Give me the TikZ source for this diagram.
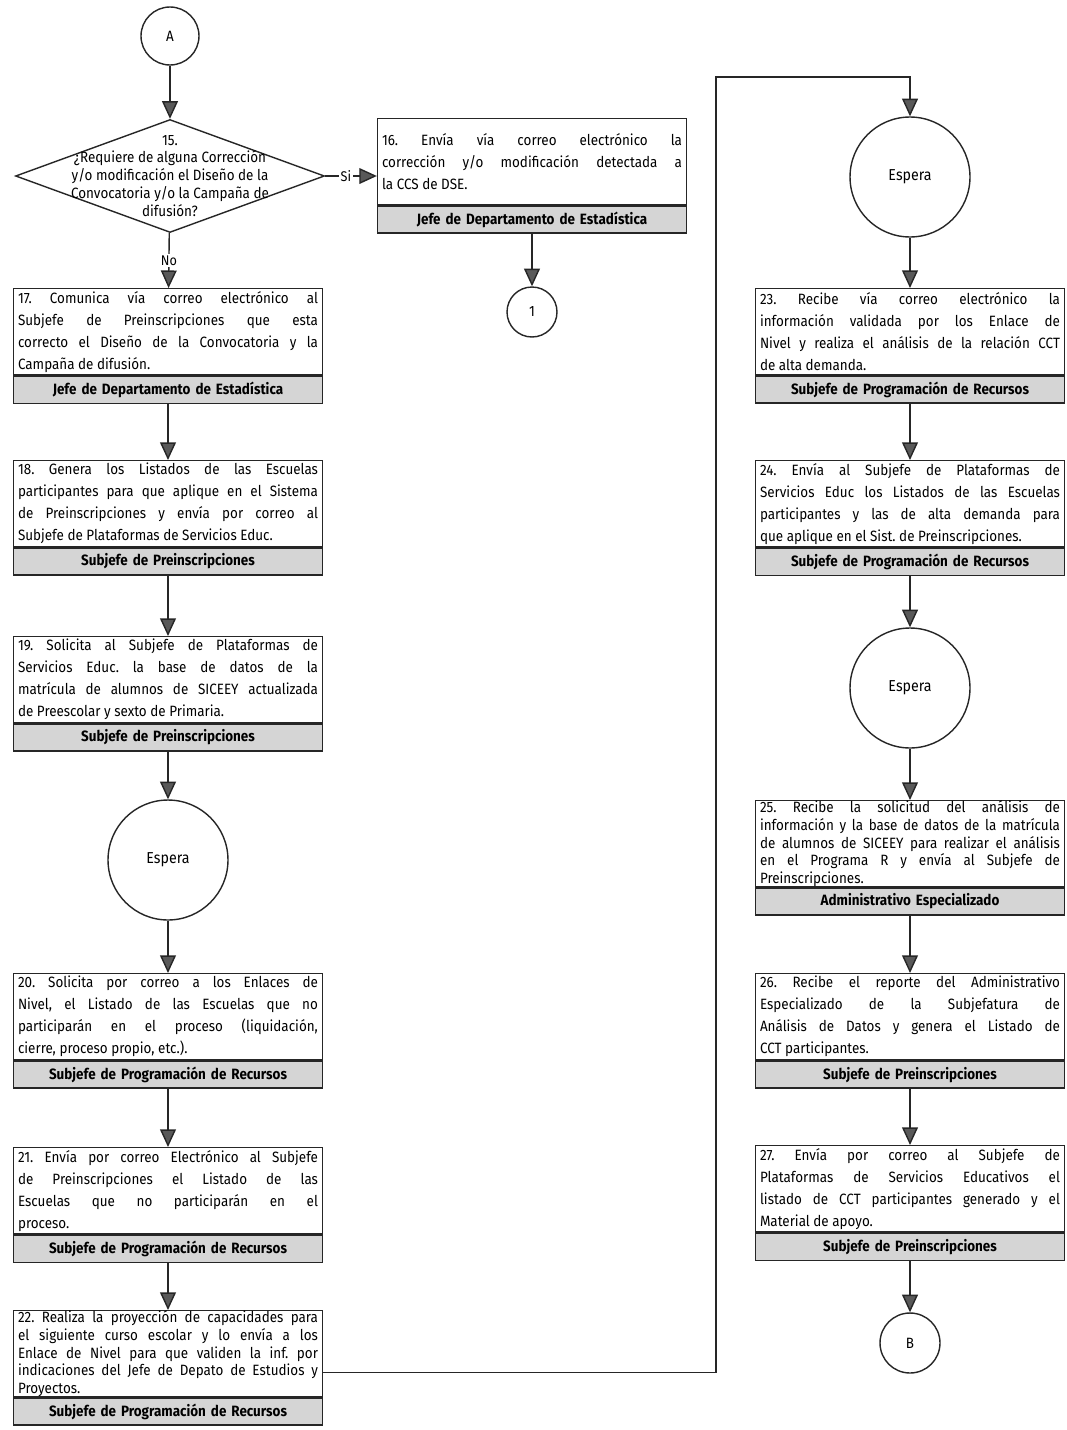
\documentclass[tikz,border=0pt]{standalone}
\usepackage{fontspec}
\setmainfont{Fira Sans}[FakeStretch=0.9]
\usetikzlibrary{positioning,arrows.meta,shapes.geometric}
\hyphenpenalty=10000
\exhyphenpenalty=10000
\tolerance=10000
\frenchspacing

\begin{document}
\begin{tikzpicture}[x=0.02cm,y=-0.02cm,
    every node/.style={font=\fontsize{8.5}{12.5}\selectfont},
    paso/.style={draw=black!85,line width=0.8pt,fill=white,text width=6cm,inner xsep=0.09cm,inner ysep=1.5pt,minimum height=1.72cm,align=justify,anchor=north},
    paso5/.style={paso,inner ysep=0pt,font=\fontsize{8.5}{10}\selectfont},
    rol/.style={draw=black!85,line width=0.8pt,fill=gray!33,text width=6cm,inner xsep=0.09cm,inner ysep=0pt,minimum height=0.54cm,align=center,font=\fontsize{8.5}{10}\selectfont\bfseries,below=0pt of #1},
    espera/.style={circle,draw=black!85,line width=0.8pt,minimum size=2.4cm,font=\fontsize{9}{11}\selectfont},
    conector/.style={circle,draw=black!85,line width=0.8pt,minimum size=#1,inner sep=0pt},
    decision/.style={diamond,draw=black!85,line width=0.8pt,fill=white,minimum width=6.18cm,minimum height=2.26cm,inner sep=0pt},
    dtexto/.style={align=center,font=\fontsize{8.5}{10.2}\selectfont},
    etiq/.style={fill=white,inner sep=1pt,font=\fontsize{8}{10}\selectfont},
    flecha/.style={draw=black!85,line width=0.8pt,-{Triangle[width=9pt,length=10pt,fill=black!65]}}]
    \useasboundingbox (0,0) rectangle (1067,1430);

    \node[conector=1.16cm] (cA) at (170,36) {A};
    \node[decision] (d15) at (170,176) {};
    \node[dtexto] (t15) at (d15) {15.\\¿Requiere de alguna Corrección\\y/o modificación el Diseño de la\\Convocatoria y/o la Campaña de\\difusión?};

    \node[paso] (s16) at (532,118) {16. Envía vía correo electrónico la\linebreak corrección y/o modificación detectada a\linebreak la CCS de DSE.};
    \node[rol=s16] (r16) {Jefe de Departamento de Estadística};
    \node[conector=1cm] (c1) at (532,312) {1};

    \node[paso] (s17) at (168,288) {17. Comunica vía correo electrónico al\linebreak Subjefe de Preinscripciones que esta\linebreak correcto el Diseño de la Convocatoria y la\linebreak Campaña de difusión.};
    \node[rol=s17] (r17) {Jefe de Departamento de Estadística};
    \node[paso] (s18) at (168,460) {18. Genera los Listados de las Escuelas\linebreak participantes para que aplique en el Sistema\linebreak de Preinscripciones y envía por correo al\linebreak Subjefe de Plataformas de Servicios Educ.};
    \node[rol=s18] (r18) {Subjefe de Preinscripciones};
    \node[paso] (s19) at (168,636) {19. Solicita al Subjefe de Plataformas de\linebreak Servicios Educ. la base de datos de la\linebreak matrícula de alumnos de SICEEY actualizada\linebreak de Preescolar y sexto de Primaria.};
    \node[rol=s19] (r19) {Subjefe de Preinscripciones};
    \node[espera] (esp1) at (168,860) {Espera};
    \node[paso] (s20) at (168,973) {20. Solicita por correo a los Enlaces de\linebreak Nivel, el Listado de las Escuelas que no\linebreak participarán en el proceso (liquidación,\linebreak cierre, proceso propio, etc.).};
    \node[rol=s20] (r20) {Subjefe de Programación de Recursos};
    \node[paso] (s21) at (168,1147) {21. Envía por correo Electrónico al Subjefe\linebreak de Preinscripciones el Listado de las\linebreak Escuelas que no participarán en el\linebreak proceso.};
    \node[rol=s21] (r21) {Subjefe de Programación de Recursos};
    \node[paso5] (s22) at (168,1310) {22. Realiza la proyección de capacidades para\linebreak el siguiente curso escolar y lo envía a los\linebreak Enlace de Nivel para que validen la inf. por\linebreak indicaciones del Jefe de Depato de Estudios y\linebreak Proyectos.};
    \node[rol=s22] (r22) {Subjefe de Programación de Recursos};

    \coordinate (k1) at (716,77);
    \node[espera] (esp2) at (910,177) {Espera};
    \node[paso] (s23) at (910,288) {23. Recibe vía correo electrónico la\linebreak información validada por los Enlace de\linebreak Nivel y realiza el análisis de la relación CCT\linebreak de alta demanda.};
    \node[rol=s23] (r23) {Subjefe de Programación de Recursos};
    \node[paso] (s24) at (910,460) {24. Envía al Subjefe de Plataformas de\linebreak Servicios Educ los Listados de las Escuelas\linebreak participantes y las de alta demanda para\linebreak que aplique en el Sist. de Preinscripciones.};
    \node[rol=s24] (r24) {Subjefe de Programación de Recursos};
    \node[espera] (esp3) at (910,688) {Espera};
    \node[paso5] (s25) at (910,800) {25. Recibe la solicitud del análisis de\linebreak información y la base de datos de la matrícula\linebreak de alumnos de SICEEY para realizar el análisis\linebreak en el Programa R y envía al Subjefe de\linebreak Preinscripciones.};
    \node[rol=s25] (r25) {Administrativo Especializado};
    \node[paso] (s26) at (910,973) {26. Recibe el reporte del Administrativo\linebreak Especializado de la Subjefatura de\linebreak Análisis de Datos y genera el Listado de\linebreak CCT participantes.};
    \node[rol=s26] (r26) {Subjefe de Preinscripciones};
    \node[paso] (s27) at (910,1145) {27. Envía por correo al Subjefe de\linebreak Plataformas de Servicios Educativos el\linebreak listado de CCT participantes generado y el\linebreak Material de apoyo.};
    \node[rol=s27] (r27) {Subjefe de Preinscripciones};
    \node[conector=1.2cm] (cB) at (910,1343) {B};

    \path[flecha]
        (cA) edge (d15)
        (d15) edge node[etiq] {No} (s17)
        (r16) edge (c1)
        (r17) edge (s18)
        (r18) edge (s19)
        (r19) edge (esp1)
        (esp1) edge (s20)
        (r20) edge (s21)
        (r21) edge (s22)
        (esp2) edge (s23)
        (r23) edge (s24)
        (r24) edge (esp3)
        (esp3) edge (s25)
        (r25) edge (s26)
        (r26) edge (s27)
        (r27) edge (cB);
    \draw[flecha] (d15.east) -- node[etiq,pos=0.4] {Si} (d15.east -| s16.west);
    \draw[flecha] (s22.-7) -| (k1) -| (esp2.north);
\end{tikzpicture}
\end{document}
